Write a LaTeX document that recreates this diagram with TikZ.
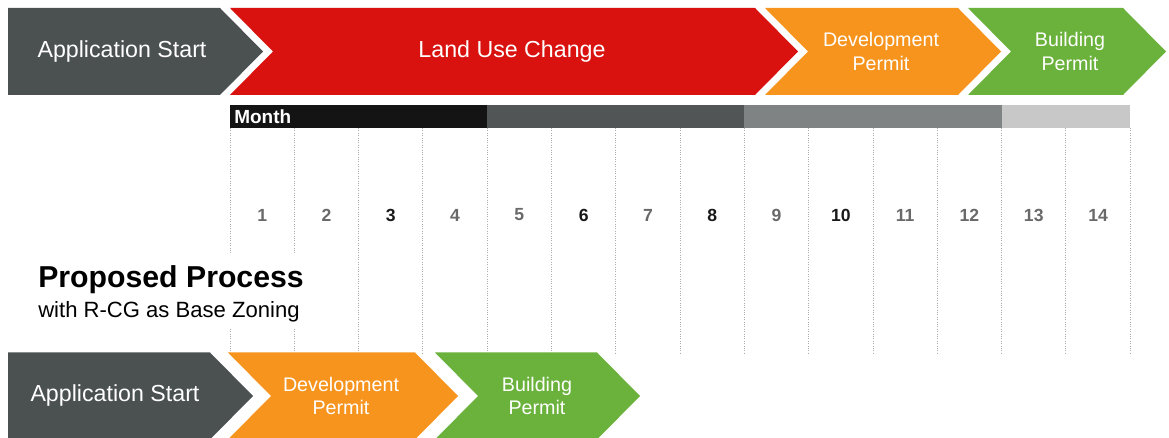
\documentclass[tikz,border=0pt]{standalone}
\usepackage{fontspec}
\setmainfont{Liberation Sans}

\definecolor{startgrey}{RGB}{75,80,80}
\definecolor{landred}{RGB}{217,18,15}
\definecolor{devorange}{RGB}{247,148,30}
\definecolor{bldgreen}{RGB}{106,178,60}
\definecolor{monthA}{RGB}{20,20,20}
\definecolor{monthB}{RGB}{82,85,85}
\definecolor{monthC}{RGB}{128,131,131}
\definecolor{monthD}{RGB}{200,200,200}
\definecolor{numgrey}{RGB}{105,105,105}
\definecolor{numdark}{RGB}{25,25,25}

\begin{document}
\begin{tikzpicture}[x=0.025cm,y=-0.025cm,
phase/.style={text=white,align=center,font=\fontsize{14}{17}\selectfont},
bigphase/.style={text=white,font=\fontsize{16.5}{19}\selectfont},
gridline/.style={densely dotted,line width=0.7pt,gray!65},
monthnum/.style={font=\bfseries\fontsize{12.5}{14}\selectfont}]

\useasboundingbox (0,0) rectangle (1169,438);

\fill[startgrey] (8,8) -- (220,8) -- (263,51.5) -- (220,95) -- (8,95) -- cycle;
\fill[landred] (230,8) -- (755,8) -- (798,51.5) -- (755,95) -- (230,95) -- (273,51.5) -- cycle;
\fill[devorange] (765,8) -- (958,8) -- (1001,51.5) -- (958,95) -- (765,95) -- (808,51.5) -- cycle;
\fill[bldgreen] (968,8) -- (1123,8) -- (1166,51.5) -- (1123,95) -- (968,95) -- (1011,51.5) -- cycle;

\draw (122,51.5) node[bigphase] (start) {Application Start};
\draw (512,51.5) node[bigphase] (landuse) {Land Use Change};
\draw (881,51.5) node[phase] (devpermit) {Development\\Permit};
\draw (1070,51.5) node[phase] (bldpermit) {Building\\Permit};

\fill[monthA] (230,105) rectangle (487.2,128);
\fill[monthB] (487.2,105) rectangle (744.4,128);
\fill[monthC] (744.4,105) rectangle (1001.6,128);
\fill[monthD] (1001.6,105) rectangle (1130.2,128);
\draw (234,116.5) node[anchor=west,inner sep=0pt,text=white,font=\bfseries\fontsize{13.5}{15}\selectfont] (month) {Month};

\foreach \i in {0,...,14}
  \draw[gridline] (230+\i*64.3,128) -- (230+\i*64.3,355);

\foreach \m/\numcol in {1/numgrey,2/numgrey,3/numdark,4/numgrey,5/numgrey,6/numdark,7/numgrey,
  8/numdark,9/numgrey,10/numdark,11/numgrey,12/numgrey,13/numgrey,14/numgrey}
  \draw (230+\m*64.3-32.15,215) node[monthnum,text=\numcol] (m\m) {\m};

\fill[white] (30,253) rectangle (314,328);
\draw (38,288) node[anchor=base west,inner sep=0pt,font=\bfseries\fontsize{21.5}{26}\selectfont] (proposed) {Proposed Process};
\draw (38,318) node[anchor=base west,inner sep=0pt,font=\fontsize{15.7}{18}\selectfont] (basezoning) {with R-CG as Base Zoning};

\fill[startgrey] (8,352.5) -- (210,352.5) -- (253,396) -- (210,439.5) -- (8,439.5) -- cycle;
\fill[devorange] (228,352.5) -- (415,352.5) -- (458,396) -- (415,439.5) -- (228,439.5) -- (271,396) -- cycle;
\fill[bldgreen] (435,352.5) -- (597,352.5) -- (640,396) -- (597,439.5) -- (435,439.5) -- (478,396) -- cycle;

\draw (115,396) node[bigphase] (newstart) {Application Start};
\draw (341,396) node[phase] (newdevpermit) {Development\\Permit};
\draw (537,396) node[phase] (newbldpermit) {Building\\Permit};
\end{tikzpicture}
\end{document}
